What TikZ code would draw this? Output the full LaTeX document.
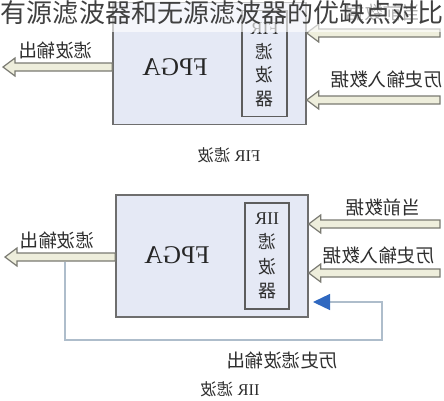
\documentclass[tikz,border=0pt]{standalone}
\usepackage{fontspec}
\usepackage{graphicx}
\setmainfont{Liberation Serif}
\newfontfamily\cjk{Noto Sans CJK SC}
\usetikzlibrary{arrows.meta,calc}
\definecolor{boxfill}{HTML}{E5E9F5}
\definecolor{boxline}{HTML}{6E6E6E}
\definecolor{arrline}{HTML}{7A7A72}
\definecolor{arrfill}{HTML}{EEEEDC}
\definecolor{fbline}{HTML}{AEBDCB}
\definecolor{tipblue}{HTML}{2F68C0}
\definecolor{txt}{HTML}{2E2E2E}
\newcommand\mir[1]{\reflectbox{#1}}
\tikzset{
  fpgabox/.style={draw=boxline, line width=1.4pt, fill=boxfill, minimum width=193pt, minimum height=122pt, inner sep=0pt},
  filterbox/.style={draw=boxline!85!black, line width=1.1pt, fill=boxfill, minimum width=45pt, minimum height=106pt, inner sep=0pt},
  filtertext/.style={align=center, text=txt, font=\fontsize{18}{23.5}\selectfont\cjk},
  fpgatext/.style={text=black!85, font=\fontsize{25.5}{25}\selectfont},
  lbl/.style={text=txt, font=\fontsize{18.5}{20}\selectfont\cjk, inner sep=0pt},
  captext/.style={text=txt, font=\fontsize{16.5}{17}\selectfont, inner sep=0pt},
  fatarrow/.style={draw=arrline, line width=1.2pt, fill=arrfill, line join=miter,
    to path={let \p1=(\tikztostart), \p2=(\tikztotarget) in
      (\x1,\y1-4pt) -- (\x2+12pt,\y1-4pt) -- (\x2+12pt,\y1-9pt) -- (\x2,\y1)
      -- (\x2+12pt,\y1+9pt) -- (\x2+12pt,\y1+4pt) -- (\x1,\y1+4pt) -- cycle}},
  feedback/.style={draw=fbline, line width=1.3pt, -{Triangle[length=17pt,width=16pt,color=tipblue]}}
}
\begin{document}
\begin{tikzpicture}[x=1pt,y=-1pt]
\useasboundingbox (0,0) rectangle (444,400);
\fill[white] (0,0) rectangle (444,400);

% ---------- FIR ----------
\node[fpgabox] (fpga1) at (209.5,63.5) {};
\node[filterbox] (filt1) at (264.5,63.5) {};
\node[filtertext] (filt1t) at (264.5,65) {\mir{\rmfamily FIR}\\\mir{滤}\\\mir{波}\\\mir{器}};
\node[fpgatext] (fpga1t) at (175,67) {\mir{FPGA}};

\coordinate (o1) at (3,67);
\coordinate (i1a) at (440,33);
\coordinate (i1b) at (440,100);
\draw[fatarrow] (o1 -| fpga1.west) to (o1);
\draw[fatarrow] (i1a) to (i1a -| fpga1.east);
\draw[fatarrow] (i1b) to (i1b -| fpga1.east);

\node[lbl] (l1out) at (56,50) {\mir{滤波输出}};
\node[lbl] (l1cur) at (383,12) {\mir{当前数据}};
\node[lbl] (l1his) at (386.5,79) {\mir{历史输入数据}};
\node[captext] (cap1) at (229,155) {\mir{FIR {\cjk 滤波}}};

% ---------- IIR ----------
\node[fpgabox, minimum width=192pt] (fpga2) at (212,256) {};
\node[filterbox, minimum width=44pt] (filt2) at (267,256) {};
\node[filtertext, font=\fontsize{18}{24.5}\selectfont\cjk] (filt2t) at (267,256) {\mir{\rmfamily IIR}\\\mir{滤}\\\mir{波}\\\mir{器}};
\node[fpgatext] (fpga2t) at (177,255) {\mir{FPGA}};

\coordinate (o2) at (5,257);
\coordinate (i2a) at (440,224);
\coordinate (i2b) at (440,273);
\draw[fatarrow] (o2 -| fpga2.west) to (o2);
\draw[fatarrow] (i2a) to (i2a -| fpga2.east);
\draw[fatarrow] (i2b) to (i2b -| fpga2.east);

\coordinate (fbA) at (65,261.5);
\coordinate (fbB) at (382,340);
\coordinate (fbT) at (313,302);
\draw[feedback] (fbA) |- (fbB) |- (fbT);

\node[lbl] (l2out) at (57,240) {\mir{滤波输出}};
\node[lbl] (l2cur) at (383,207) {\mir{当前数据}};
\node[lbl] (l2his) at (378.5,255) {\mir{历史输入数据}};
\node[lbl] (l2fb) at (282,360) {\mir{历史滤波输出}};
\node[captext] (cap2) at (230,389) {\mir{IIR {\cjk 滤波}}};

% ---------- title band ----------
\fill[white, opacity=0.62] (0,0) rectangle (444,32);
\node[text=black!75, font=\fontsize{26}{26}\selectfont\cjk, inner sep=0pt] (title) at (222,13) {有源滤波器和无源滤波器的优缺点对比};
\end{tikzpicture}
\end{document}
